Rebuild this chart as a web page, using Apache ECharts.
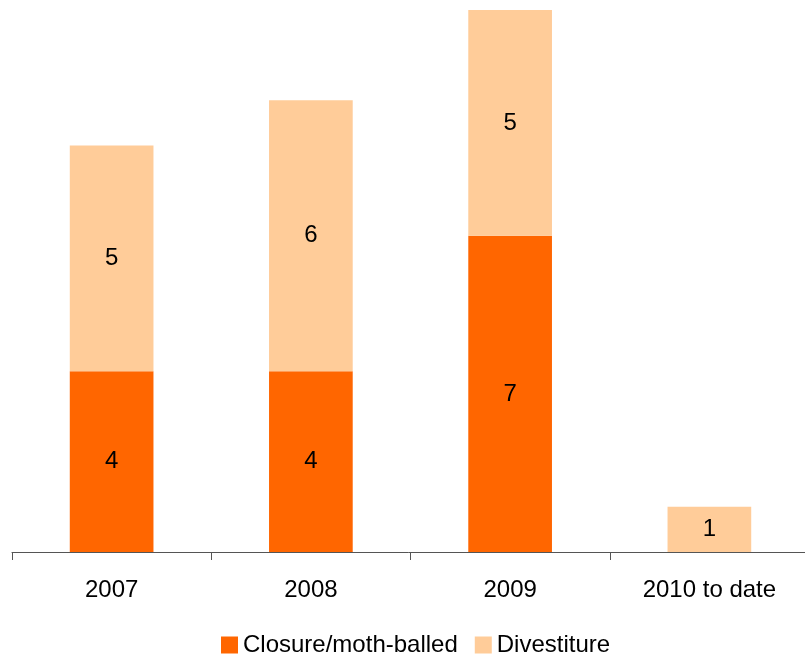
<!DOCTYPE html>
<html>
<head>
<meta charset="utf-8">
<script src="https://cdn.jsdelivr.net/npm/echarts@6/dist/echarts.min.js"></script>
<style>html,body{margin:0;padding:0;background:#fff}#c{width:805px;height:656px}</style>
</head>
<body>
<div id="c"></div>
<script>
var categories = ['2007', '2008', '2009', '2010 to date'];
var closure = [4, 4, 7, null];
var divestiture = [5, 6, 5, 1];
var seriesNames = ['Closure/moth-balled', 'Divestiture'];

var font = 'Liberation Sans, Arial, sans-serif';
var chart = echarts.init(document.getElementById('c'));
chart.setOption({
  animation: false,
  grid: { left: 12, width: 797, top: 10, bottom: 104, containLabel: false, outerBoundsMode: 'none' },
  legend: {
    data: seriesNames,
    left: 216, top: 628,
    itemWidth: 17, itemHeight: 17, itemGap: 17,
    icon: 'rect',
    textStyle: { fontFamily: font, fontSize: 24, color: '#000' }
  },
  xAxis: {
    type: 'category',
    data: categories,
    axisLine: { lineStyle: { color: '#555', width: 1 } },
    axisTick: { show: true, length: 8, lineStyle: { color: '#555' } },
    axisLabel: { fontFamily: font, fontSize: 24, color: '#000', margin: 26 }
  },
  yAxis: { type: 'value', min: 0, max: 12, show: false, splitLine: { show: false } },
  series: [
    {
      name: seriesNames[0], type: 'bar', stack: 't', data: closure,
      barWidth: '42%', itemStyle: { color: '#FF6600' },
      label: { show: true, position: 'inside', fontFamily: font, fontSize: 24, color: '#000' }
    },
    {
      name: seriesNames[1], type: 'bar', stack: 't', data: divestiture,
      barWidth: '42%', itemStyle: { color: '#FFCC99' },
      label: { show: true, position: 'inside', fontFamily: font, fontSize: 24, color: '#000' }
    }
  ]
});
</script>
</body>
</html>
